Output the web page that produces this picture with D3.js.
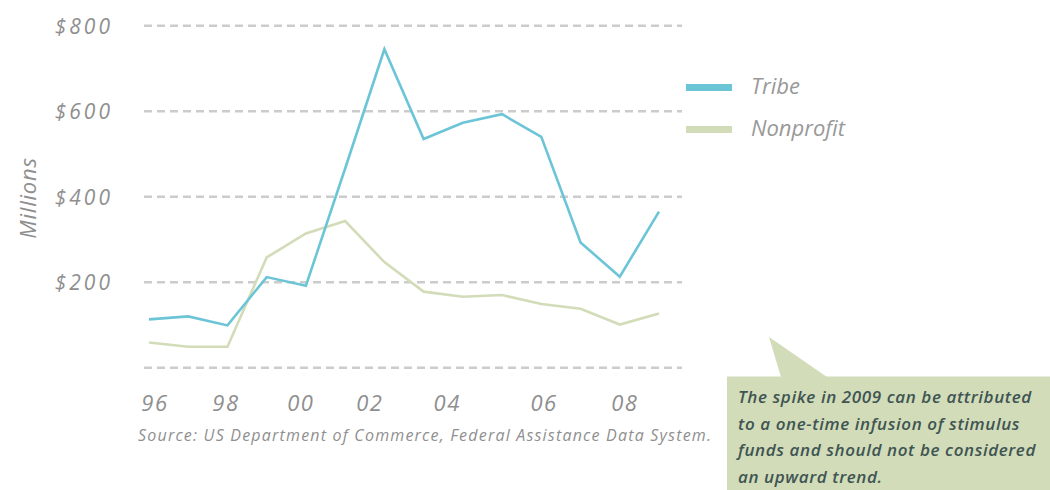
<!DOCTYPE html>
<html>
<head>
<meta charset="utf-8">
<script src="https://cdn.jsdelivr.net/npm/d3@7"></script>
<style>
  body { margin: 0; background: #fff; }
  svg text { font-family: "Open Sans", sans-serif; font-style: italic; }
</style>
</head>
<body>
<div id="chart"></div>
<script>
// Federal assistance funding, tribes vs nonprofits (millions of dollars)
const years = [1996, 1997, 1998, 1999, 2000, 2001, 2002, 2003, 2004, 2005, 2006, 2007, 2008, 2009];
const tribe = [112, 119, 98, 211, 191, 465, 744, 534, 572, 592, 539, 292, 212, 364];
const nonprofit = [58, 48, 48, 257, 313, 342, 246, 177, 165, 169, 148, 137, 100, 126];

// x tick labels and where they sit along the year scale
const tickLabels = ["96", "98", "00", "02", "04", "06", "08"];
const tickPos = [1996.15, 1997.96, 1999.87, 2001.63, 2003.6, 2006.07, 2008.13];
const yTicks = [0, 200, 400, 600, 800];

const series = [
  { name: "Tribe", values: tribe, color: "#6cc5d7" },
  { name: "Nonprofit", values: nonprofit, color: "#d2dcb9" }
];

const note = [
  "The spike in 2009 can be attributed",
  "to a one-time infusion of stimulus",
  "funds and should not be considered",
  "an upward trend."
];

const W = 1050, H = 490;

const svg = d3.select("#chart")
  .append("svg")
  .attr("width", W)
  .attr("height", H);

const x = d3.scaleLinear()
  .domain([1996, 2009])
  .range([149, 659]);

const y = d3.scaleLinear()
  .domain([0, 800])
  .range([367.3, 25.3]);

const gridLeft = 144, gridRight = 682;

// y axis with dashed gridlines
const yAxis = svg.append("g")
  .attr("transform", `translate(${gridLeft},0)`)
  .call(d3.axisLeft(y)
    .tickValues(yTicks)
    .tickSize(-(gridRight - gridLeft))
    .tickPadding(31)
    .tickFormat(d => d === 0 ? "" : "$" + d));

yAxis.select(".domain").remove();
yAxis.selectAll(".tick line")
  .attr("stroke", "#cccccc")
  .attr("stroke-width", 2.5)
  .attr("stroke-dasharray", "8,5");
yAxis.selectAll(".tick text")
  .attr("fill", "#8f8f8f")
  .attr("dy", "0.38em")
  .style("font-size", "21px")
  .style("letter-spacing", "3px");

// y axis title
svg.append("text")
  .attr("transform", "translate(36,198) rotate(-90)")
  .attr("text-anchor", "middle")
  .attr("fill", "#8f8f8f")
  .style("font-size", "22px")
  .style("letter-spacing", "0.8px")
  .text("Millions");

// x tick labels
svg.append("g")
  .selectAll("text")
  .data(tickLabels)
  .join("text")
  .attr("x", (d, i) => x(tickPos[i]))
  .attr("y", 411)
  .attr("text-anchor", "middle")
  .attr("fill", "#8f8f8f")
  .style("font-size", "22px")
  .style("letter-spacing", "1.5px")
  .text(d => d);

// lines
const line = d3.line()
  .x((d, i) => x(years[i]))
  .y(d => y(d));

svg.selectAll("path.series")
  .data(series.slice().reverse())
  .join("path")
  .attr("class", "series")
  .attr("fill", "none")
  .attr("stroke", d => d.color)
  .attr("stroke-width", 2.6)
  .attr("stroke-linejoin", "miter")
  .attr("d", d => line(d.values));

// legend
const legend = svg.append("g")
  .selectAll("g")
  .data(series)
  .join("g")
  .attr("transform", (d, i) => `translate(686,${84 + i * 42})`);

legend.append("rect")
  .attr("width", 46)
  .attr("height", 7)
  .attr("fill", d => d.color);

legend.append("text")
  .attr("x", 65)
  .attr("y", 10)
  .attr("fill", "#999999")
  .style("font-size", "22px")
  .text(d => d.name);

// source line
svg.append("text")
  .attr("x", 138)
  .attr("y", 441)
  .attr("fill", "#8f8f8f")
  .style("font-size", "16px")
  .style("letter-spacing", "1.2px")
  .text("Source: US Department of Commerce, Federal Assistance Data System.");

// annotation callout
const callout = svg.append("g");
callout.append("path")
  .attr("d", "M769,337 L781,377 L827,377 Z")
  .attr("fill", "#d2dcb9");
callout.append("rect")
  .attr("x", 727)
  .attr("y", 376.5)
  .attr("width", W - 727)
  .attr("height", H - 376.5)
  .attr("fill", "#d2dcb9");
callout.append("text")
  .attr("fill", "#3f5553")
  .style("font-size", "17px")
  .style("font-weight", 600)
  .style("letter-spacing", "0.6px")
  .selectAll("tspan")
  .data(note)
  .join("tspan")
  .attr("x", 738)
  .attr("y", (d, i) => 403 + i * 26.5)
  .text(d => d);
</script>
</body>
</html>
